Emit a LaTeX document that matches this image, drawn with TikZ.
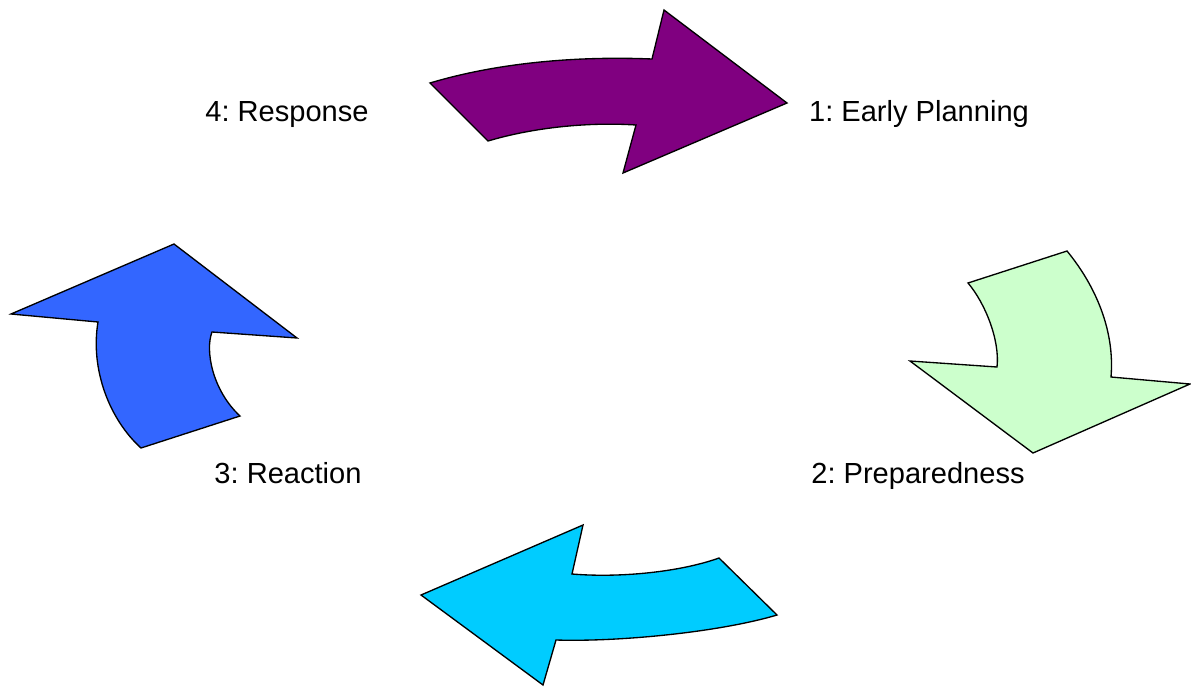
\documentclass[tikz,border=0pt]{standalone}
\usepackage{fontspec}
\setmainfont{Liberation Sans}
\frenchspacing
\definecolor{planpurple}{HTML}{800080}
\definecolor{prepgreen}{HTML}{CCFFCC}
\definecolor{reactcyan}{HTML}{00CCFF}
\definecolor{respblue}{HTML}{3366FF}
\begin{document}
\begin{tikzpicture}[x=0.75pt,y=-0.75pt,
        cyclearrow/.style={draw=black,line width=1pt,line join=miter},
        phase/.style={anchor=base,inner sep=0pt,font=\fontsize{21.8}{26}\selectfont}]
    \useasboundingbox (0,0) rectangle (1191,686);

    % phase labels
    \node[phase] (plan) at (919,121) {1: Early Planning};
    \node[phase] (prep) at (918,483) {2: Preparedness};
    \node[phase] (react) at (288,483) {3: Reaction};
    \node[phase] (resp) at (287,121) {4: Response};

    % curved arrows between the phases
    \filldraw[cyclearrow,fill=planpurple] (430,83) .. controls (500,62) and (580,56) .. (652,59)
        -- (664,10) -- (787,103) -- (623,173) -- (636,125)
        .. controls (590,122) and (535,127) .. (488,141) -- cycle;
    \filldraw[cyclearrow,fill=prepgreen] (968,283) -- (1067,251)
        .. controls (1095,285) and (1115,330) .. (1111,377)
        -- (1190,384) -- (1033,453) -- (910,361) -- (997,367)
        .. controls (1000,340) and (985,303) .. cycle;
    \filldraw[cyclearrow,fill=reactcyan] (777,615) .. controls (720,632) and (620,642) .. (556,640)
        -- (543,685) -- (421,595) -- (583,525) -- (572,574)
        .. controls (620,578) and (680,572) .. (719,558) -- cycle;
    \filldraw[cyclearrow,fill=respblue] (141,448) .. controls (110,420) and (90,370) .. (98,322)
        -- (11,314) -- (174,244) -- (297,338) -- (212,332)
        .. controls (205,350) and (212,390) .. (240,416) -- cycle;
\end{tikzpicture}
\end{document}
